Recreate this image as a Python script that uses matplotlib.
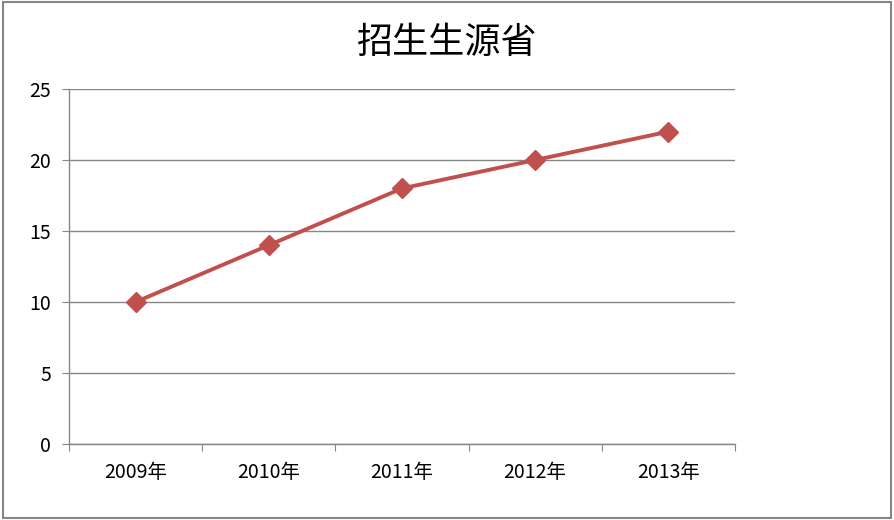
import matplotlib
matplotlib.use('Agg')
import matplotlib.pyplot as plt
from matplotlib.patches import Rectangle

plt.rcParams['font.family'] = ['Noto Sans CJK SC', 'DejaVu Sans']

title = '招生生源省'
years = ['2009年', '2010年', '2011年', '2012年', '2013年']
values = [10, 14, 18, 20, 22]
yticks = [0, 5, 10, 15, 20, 25]

grey = '#868686'

fig = plt.figure(figsize=(8.94, 5.2), dpi=100)
fig.patches.append(Rectangle((0.003, 0.004), 0.994, 0.993, transform=fig.transFigure,
                             fill=False, edgecolor=grey, linewidth=1.5))
ax = fig.add_axes([0.0772, 0.1462, 0.8221 - 0.0772, 0.8288 - 0.1462])

x = list(range(len(years)))
ax.plot(x, values, color='#C0504D', linewidth=2.8, marker='D', markersize=10.5,
        markeredgecolor='#C0504D', zorder=3)

ax.set_xlim(-0.5, len(years) - 0.5)
ax.set_ylim(0, 25)
ax.set_yticks(yticks)
ax.yaxis.grid(True, color=grey, linewidth=1)
ax.set_axisbelow(True)

ax.set_xticks([i - 0.5 for i in range(len(years) + 1)])
ax.set_xticklabels([])
ax.set_xticks(x, minor=True)
ax.set_xticklabels(years, minor=True)
ax.tick_params(axis='x', which='minor', length=0, pad=13, labelsize=14)
ax.tick_params(axis='x', which='major', length=5, color=grey, direction='out')
ax.tick_params(axis='y', length=5, color=grey, labelsize=14, pad=8)

for s in ['top', 'right']:
    ax.spines[s].set_visible(False)
for s in ['left', 'bottom']:
    ax.spines[s].set_color(grey)
    ax.spines[s].set_linewidth(1)

fig.text(0.5, 0.918, title, ha='center', va='center', fontsize=26)

fig.savefig('out.png', dpi=100)
